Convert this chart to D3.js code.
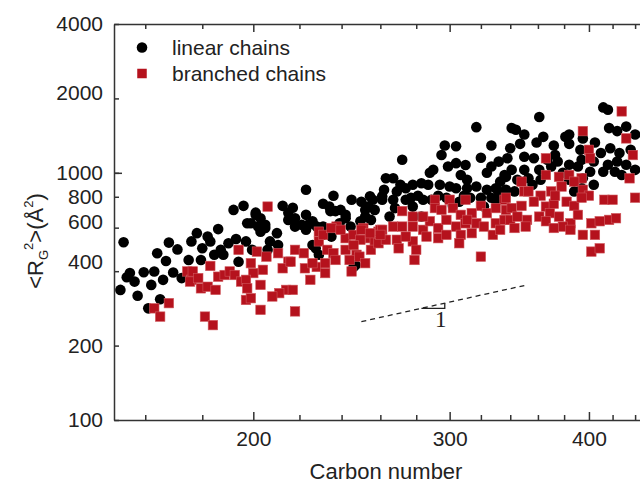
<!DOCTYPE html>
<html>
<head>
<meta charset="utf-8">
<script src="https://cdn.jsdelivr.net/npm/d3@7"></script>
<style>
  body { margin: 0; background: #fff; }
  svg { display: block; font-family: "Liberation Sans", Arial, sans-serif; }
  .axis path, .axis line { stroke: #333; stroke-width: 1.5; }
  .axis text { font-family: "Liberation Sans", Arial, sans-serif; font-size: 21px; fill: #222; }
</style>
</head>
<body>
<svg id="chart" width="640" height="487"></svg>
<script>
// carbon number vs <Rg^2> (A^2)
const linearChains = [
  [153,524],[152,336],[154,378],[155,393],[156.5,363],[157.5,318],[159.5,396],[161,283],[162,352],[163,399],
  [164,473],[165,308],[166,369],[167,440],[168,522],[169.5,395],[171,490],[172.5,375],[175,444],[176,528],
  [178,570],[179.5,444],[180,495],[182,552],[183,528],[186,592],[184.5,466],[188,466],[190,519],[192,708],
  [193,540],[194,437],[196,735],[197.5,625],[197,528],[187,488],
  [223,854],[201,676],[199,625],[203,655],[205,598],[203,578],[210,570],[212.5,735],[215,690],[218,655],
  [221,616],[218,606],[223,588],[226,637],[228,606],[231,750],[234,730],[236,808],[237,700],[239.5,708],
  [242,655],[245,778],[244.5,606],[249.5,637],[252,708],[254.5,804],[257,708],[255,645],[199.5,488],[206,488],
  [231,561],[235,552],[227.5,495],[229,466],[246,416],[247,424],
  [217,722],[223,676],[215,645],[224,616],[231,606],[234.5,700],[242,676],[250,764],[253.5,730],[256,778],
  [252,665],[239,625],[201,690],[202,606],[205,616],[207,528],[210.5,510],[226,510],[261,804],
  [317,1530],[272,1129],[297,1290],[304,1280],[295,1180],[327,1290],[320,1150],[263,950],[267,950],[288,1000],
  [304,1094],[310,1075],[307,980],[327,1060],[332,1110],[324,1000],[336,980],[262,854],[269,841],[274,866],
  [278,895],[283,908],[287,895],[294,895],[300,880],[304,866],[311,866],[317,880],[324,854],[330,866],
  [333,921],[261,778],[267,778],[274,778],[281,808],[284,778],[293,808],[298,793],[309,808],[313,793],
  [320,793],[327,793],[332,841],[337,854],[265,665],[278,730],[283,665],[289,778],[302,735],[322,730],
  [330,778],[268,720],[290,1028],[299,1060],[271,895],[311,937],[277,793],[306,764],
  [412,1839],[416,1799],[361,1683],[341,1517],[344,1493],[364,1398],[381,1398],[384,1428],[395,1378],[405,1326],
  [417,1517],[424,1475],[432,1538],[440,1428],[340,1258],[347,1310],[359,1326],[372,1290],[384,1310],[393,1239],
  [410,1202],[418,1258],[426,1202],[436,1239],[338,1145],[350,1162],[357,1145],[367,1129],[375,1111],[384,1078],
  [394,1129],[404,1111],[416,1078],[424,1111],[432,1078],[341,1028],[350,1028],[361,1028],[370,1060],[379,1000],
  [391,1060],[401,1010],[412,1010],[422,1010],[428,980],[440,1028],[337,963],[345,937],[353,950],[362,937],
  [384,937],[395,950],[404,895],[343,841],[356,895],[388,841],[394,866],[350,1428],[373,1180]
];

const branchedChains = [
  [163,283],[165,262],[168,297],[174.5,399],[176,369],[176.5,399],[175.5,363],[178.5,375],[179.5,341],[182,346],
  [183,420],[185,336],[186,380],[188.5,386],[190.5,399],[192.5,386],[194,488],[195,363],[197,306],[181,262],
  [184,242],
  [206,730],[201.5,480],[205.5,458],[210.5,473],[215,437],[218,488],[222,473],[229,578],[229,528],[233,488],
  [236,473],[237.5,606],[242,544],[242,488],[246,561],[249.5,536],[251,598],[254.5,544],[259,578],[257,528],
  [247.5,466],[245,399],[199,431],[200,393],[204,405],[203,352],[197,369],[212.5,411],[216,437],[222.5,411],
  [225,369],[228,416],[232,393],[214,336],[217,336],[211,326],[208,316],[199,311],[203,279],[218,275],
  [197.5,341],
  [226,431],[231,561],[235,598],[239.5,588],[250,588],[254.5,570],[260,588],[246,510],[237,444],[244,444],
  [249,458],[255,488],[259,519],[232,431],[252,431],
  [291,778],[300,778],[310,778],[320,735],[336,778],[272,700],[278,665],[291,720],[295,708],[302,720],
  [307,676],[314,687],[324,687],[330,720],[337,708],[261,588],[267,606],[272,606],[278,606],[284,588],
  [288,637],[293,598],[298,645],[304,606],[310,625],[317,625],[322,606],[330,625],[336,645],[263,536],
  [269,536],[278,528],[286,552],[293,544],[307,561],[314,570],[328,561],[270,495],[280,488],[279,444],
  [320,458],[260,561],[284,665],[311,645],[333,588],[298,561],[274,552],[306,519],
  [428,1772],[395,1475],[432,1378],[400,1239],[438,1180],[366,1145],[401,1145],[435,950],[440,793],[348,921],
  [366,980],[376,963],[384,980],[394,950],[337,793],[350,841],[353,841],[362,808],[370,841],[378,880],
  [388,921],[395,854],[400,808],[413,778],[420,778],[341,720],[348,735],[357,764],[366,730],[372,750],
  [382,764],[388,735],[394,793],[340,645],[345,665],[352,645],[361,665],[369,687],[376,665],[385,625],
  [391,676],[351,606],[379,606],[385,588],[402,625],[409,637],[417,645],[423,655],[395,561],[405,561],
  [402,480],[409,495],[373,808],[366,637],[343,598],[372,598]
];

const xMajorTicks = [200, 300, 400];
const xMinorTicks = [160, 180, 220, 240, 260, 280, 320, 340, 360, 380, 420, 440, 460, 480];
const yTicks = [100, 200, 400, 600, 800, 1000, 2000, 4000];
const slopeLine = [[250, 250], [350, 350]];
const slopeTriangle = [[283, 283], [297, 283], [297, 297]];
const legendLabels = ["linear chains", "branched chains"];

const red = "#b5121d";
const svg = d3.select("#chart");

const x = d3.scaleLog().domain([150, 500]).range([114, 697]);
const y = d3.scaleLog().domain([100, 4000]).range([420, 24]);

// y labels that sit a bit above their tick in the original
const yLabelNudge = { 2000: -6, 600: -6, 400: -9 };

// bottom axis
svg.append("g").attr("class", "axis").attr("transform", "translate(0,420)")
  .call(d3.axisBottom(x).tickValues(xMajorTicks).tickFormat(d3.format("d"))
    .tickSize(-8).tickSizeOuter(0).tickPadding(11));
svg.append("g").attr("class", "axis").attr("transform", "translate(0,420)")
  .call(d3.axisBottom(x).tickValues(xMinorTicks).tickFormat("").tickSize(-5).tickSizeOuter(0))
  .select(".domain").remove();

// top axis
svg.append("g").attr("class", "axis").attr("transform", "translate(0,24)")
  .call(d3.axisTop(x).tickValues(xMajorTicks).tickFormat("").tickSize(-8).tickSizeOuter(0));
svg.append("g").attr("class", "axis").attr("transform", "translate(0,24)")
  .call(d3.axisTop(x).tickValues(xMinorTicks).tickFormat("").tickSize(-5).tickSizeOuter(0))
  .select(".domain").remove();

// left axis
const yAxisG = svg.append("g").attr("class", "axis").attr("transform", "translate(114,0)")
  .call(d3.axisLeft(y).tickValues(yTicks).tickFormat(d3.format("d"))
    .tickSize(-5).tickSizeOuter(0).tickPadding(11));
yAxisG.selectAll(".tick text")
  .attr("transform", d => `translate(0,${yLabelNudge[d] || 0})`);
svg.append("g").attr("class", "axis").attr("transform", "translate(114,0)")
  .call(d3.axisLeft(y).tickValues([1000]).tickFormat("").tickSize(-8).tickSizeOuter(0))
  .select(".domain").remove();

// points
svg.append("g").selectAll("circle")
  .data(linearChains)
  .enter()
  .append("circle")
  .attr("cx", d => x(d[0]))
  .attr("cy", d => y(d[1]))
  .attr("r", 5.3)
  .attr("fill", "#000");

const sq = 9.5;
svg.append("g").selectAll("rect")
  .data(branchedChains)
  .enter()
  .append("rect")
  .attr("x", d => x(d[0]) - sq / 2)
  .attr("y", d => y(d[1]) - sq / 2)
  .attr("width", sq)
  .attr("height", sq)
  .attr("fill", red)
  .attr("stroke", "#d0575c")
  .attr("stroke-width", 0.6);

// slope 1 guide
const line = d3.line().x(d => x(d[0])).y(d => y(d[1]));
svg.append("path")
  .attr("d", line(slopeLine))
  .attr("fill", "none")
  .attr("stroke", "#222")
  .attr("stroke-width", 1.3)
  .attr("stroke-dasharray", "5,4");
svg.append("path")
  .attr("d", line(slopeTriangle))
  .attr("fill", "none")
  .attr("stroke", "#222")
  .attr("stroke-width", 1.3);
svg.append("text")
  .attr("x", x(slopeTriangle[1][0]) - 4)
  .attr("y", y(slopeTriangle[1][1]) + 19)
  .attr("text-anchor", "middle")
  .attr("font-family", "'Liberation Serif', 'Times New Roman', serif")
  .attr("font-size", 23)
  .attr("fill", "#222")
  .text("1");

// legend
svg.append("circle").attr("cx", 142).attr("cy", 47.5).attr("r", 5.3).attr("fill", "#000");
svg.append("rect").attr("x", 142 - sq / 2).attr("y", 73.5 - sq / 2)
  .attr("width", sq).attr("height", sq).attr("fill", red);
svg.selectAll(".legend-label")
  .data(legendLabels)
  .enter()
  .append("text")
  .attr("class", "legend-label")
  .attr("x", 172)
  .attr("y", (d, i) => 55 + i * 26)
  .attr("font-size", 21)
  .attr("fill", "#222")
  .text(d => d);

// axis titles
svg.append("text")
  .attr("x", 386)
  .attr("y", 479)
  .attr("text-anchor", "middle")
  .attr("font-size", 22)
  .attr("fill", "#222")
  .text("Carbon number");

const yTitle = svg.append("text")
  .attr("transform", "translate(43,241) rotate(-90)")
  .attr("text-anchor", "middle")
  .attr("font-size", 22)
  .attr("fill", "#222");
yTitle.append("tspan").text("<R");
yTitle.append("tspan").attr("font-size", 13).attr("dy", 5).text("G");
yTitle.append("tspan").attr("font-size", 13).attr("dy", -15).text("2");
yTitle.append("tspan").attr("dy", 10).text(">(Å");
yTitle.append("tspan").attr("font-size", 13).attr("dy", -10).text("2");
yTitle.append("tspan").attr("dy", 10).text(")");
</script>
</body>
</html>
